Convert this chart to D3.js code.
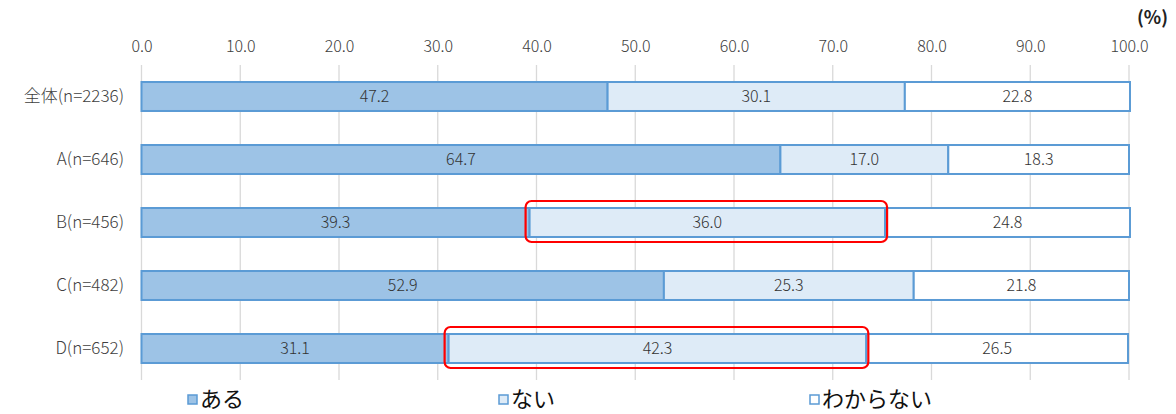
<!DOCTYPE html>
<html><head><meta charset="utf-8">
<script src="https://cdn.jsdelivr.net/npm/d3@7"></script>
<style>body{margin:0;background:#fff;} svg{display:block;font-family:"Noto Sans CJK JP","Noto Sans",sans-serif;}</style>
</head><body>
<svg id="c" width="1176" height="414"></svg>
<script>
const categories = ["全体(n=2236)", "A(n=646)", "B(n=456)", "C(n=482)", "D(n=652)"];
const seriesNames = ["ある", "ない", "わからない"];
const aru = [47.2, 64.7, 39.3, 52.9, 31.1];
const nai = [30.1, 17.0, 36.0, 25.3, 42.3];
const wakaranai = [22.8, 18.3, 24.8, 21.8, 26.5];
const tickValues = [0, 10, 20, 30, 40, 50, 60, 70, 80, 90, 100];
const highlighted = [{cat: "B(n=456)", series: 1}, {cat: "D(n=652)", series: 1}];

const fills = ["#9dc3e6", "#deebf7", "#ffffff"];
const strokeC = "#5b9bd5";
const numFont = "'Noto Sans CJK JP', 'Noto Sans', sans-serif";
const svg = d3.select("#c");
const x = d3.scaleLinear().domain([0, 100]).range([141.5, 1129]);
const y = d3.scaleBand().domain(categories).range([65, 380]).paddingInner(0.54).paddingOuter(0.27);

// gridlines
svg.append("g").selectAll("line").data(tickValues).join("line")
  .attr("x1", d => x(d)).attr("x2", d => x(d)).attr("y1", 65).attr("y2", 380)
  .attr("stroke", "#d9d9d9").attr("stroke-width", 1.3);

// top axis
const ax = svg.append("g").attr("transform", "translate(0,56)")
  .call(d3.axisTop(x).tickValues(tickValues).tickFormat(d3.format(".1f")).tickSize(0).tickPadding(4));
ax.select(".domain").remove();
ax.selectAll("text").attr("font-size", 16).attr("font-weight", 300).attr("fill", "#404040").attr("font-family", numFont);

svg.append("text").attr("x", 1168).attr("y", 24).attr("text-anchor", "end")
  .attr("font-size", 18).attr("font-weight", "bold").attr("fill", "#222").text("(%)");

// category labels
svg.append("g").selectAll("text").data(categories).join("text")
  .attr("x", 124).attr("y", d => y(d) + y.bandwidth() / 2).attr("dy", "0.35em")
  .attr("text-anchor", "end").attr("font-size", 17).attr("font-weight", 300).attr("fill", "#404040").text(d => d);

// stacked
const rows = categories.map((c, i) => ({cat: c, vals: [aru[i], nai[i], wakaranai[i]]}));
const segs = [];
rows.forEach(r => {
  let acc = 0;
  r.vals.forEach((v, s) => { segs.push({cat: r.cat, s, x0: acc, x1: acc + v, v}); acc += v; });
});
const g = svg.append("g");
g.selectAll("rect").data(segs).join("rect")
  .attr("x", d => x(d.x0)).attr("width", d => x(d.x1) - x(d.x0))
  .attr("y", d => y(d.cat)).attr("height", y.bandwidth())
  .attr("fill", d => fills[d.s]).attr("stroke", strokeC).attr("stroke-width", 2);
g.selectAll("text").data(segs).join("text")
  .attr("x", d => (x(d.x0) + x(d.x1)) / 2).attr("y", d => y(d.cat) + y.bandwidth() / 2).attr("dy", "0.36em")
  .attr("text-anchor", "middle").attr("font-size", 16).attr("font-weight", 300).attr("fill", "#333")
  .attr("font-family", numFont)
  .text(d => d.v.toFixed(1));

// highlight boxes
svg.append("g").selectAll("rect").data(highlighted).join("rect")
  .attr("x", d => { const s = segs.find(t => t.cat === d.cat && t.s === d.series); return x(s.x0) - 4; })
  .attr("width", d => { const s = segs.find(t => t.cat === d.cat && t.s === d.series); return x(s.x1) - x(s.x0) + 6; })
  .attr("y", d => y(d.cat) - 7).attr("height", y.bandwidth() + 12)
  .attr("rx", 6).attr("fill", "none").attr("stroke", "#ff0000").attr("stroke-width", 2.2);

// legend
const legX = [187, 498, 809];
const lg = svg.append("g").selectAll("g").data(seriesNames).join("g")
  .attr("transform", (d, i) => `translate(${legX[i]},399)`);
lg.append("rect").attr("x", 1).attr("y", -4).attr("width", 9).attr("height", 9)
  .attr("fill", (d, i) => fills[i]).attr("stroke", strokeC).attr("stroke-width", 1.5);
lg.append("text").attr("x", 13).attr("y", 0).attr("dy", "0.35em").attr("font-size", 22).attr("fill", "#111").text(d => d);
</script>
</body></html>
